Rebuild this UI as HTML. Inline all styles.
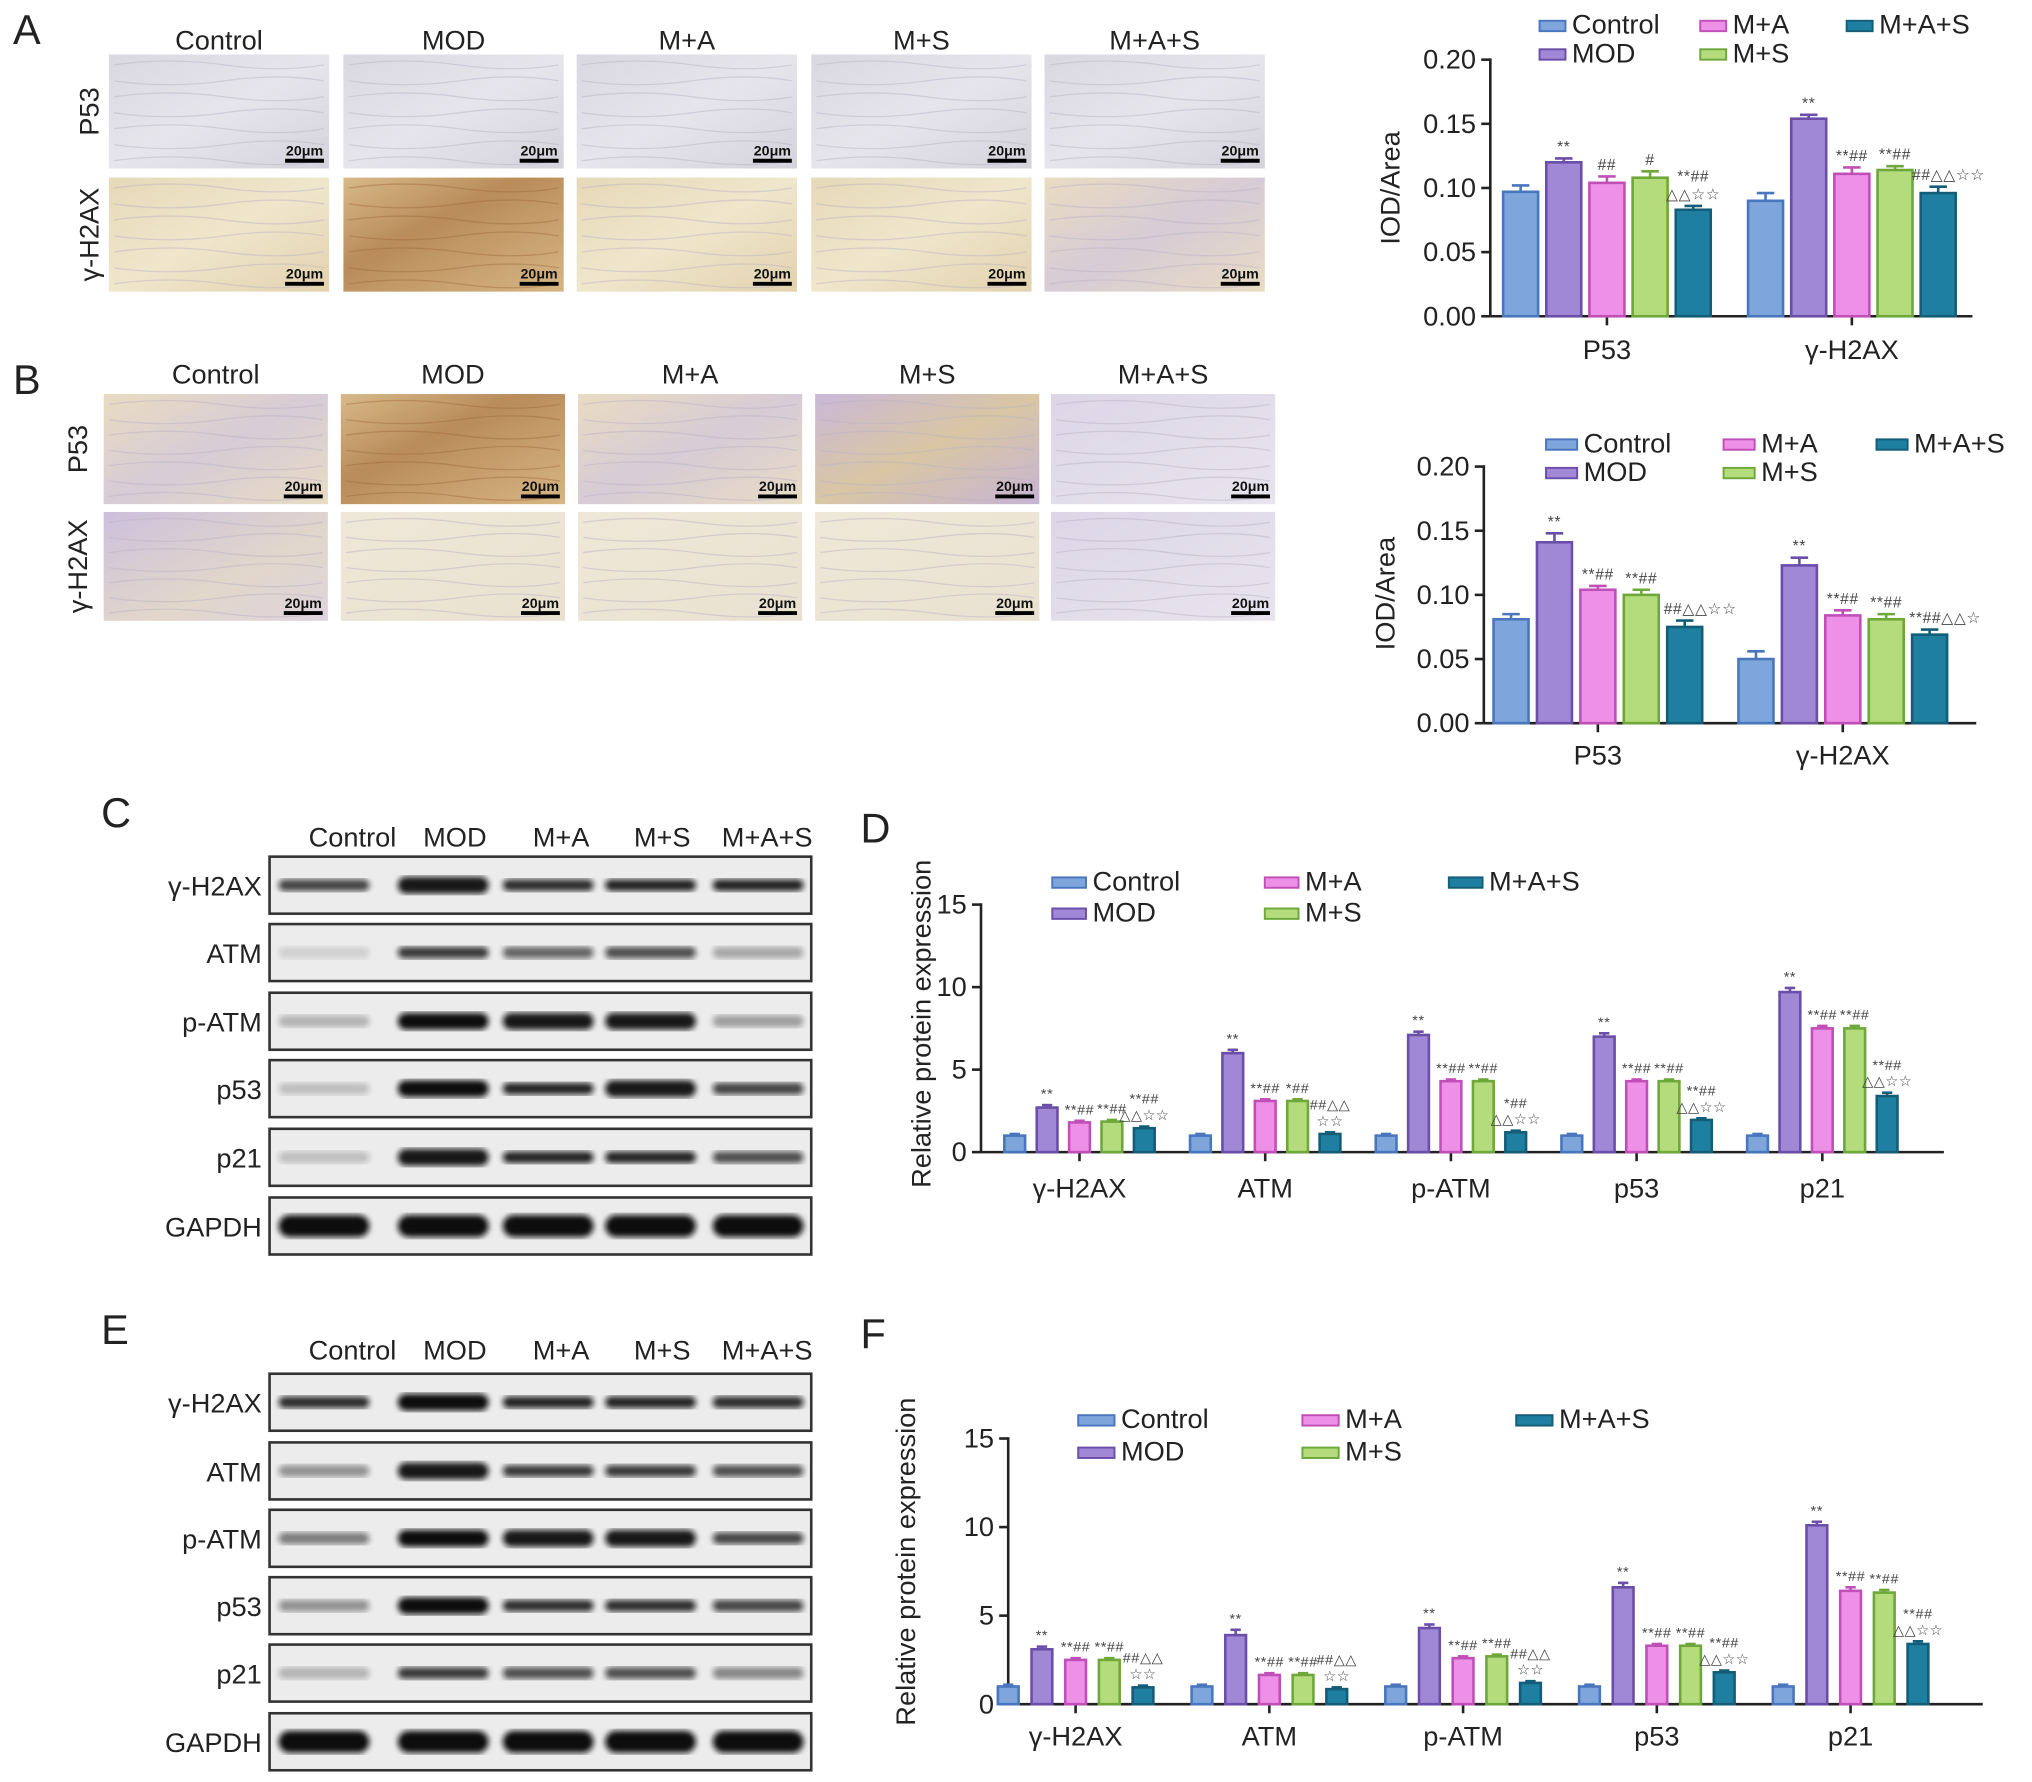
<!DOCTYPE html>
<html><head><meta charset="utf-8"><style>
html,body{margin:0;padding:0;background:#fff;}
svg{display:block;font-family:"Liberation Sans",Arial,sans-serif;}
</style></head><body>
<svg id="fig" xmlns="http://www.w3.org/2000/svg" width="2032" height="1782" viewBox="0 0 1568 1375">
<defs>
<linearGradient id="gGrey" x1="0" y1="0" x2="1" y2="1"><stop offset="0" stop-color="#d9d8e0"/><stop offset="0.5" stop-color="#e6e5ec"/><stop offset="1" stop-color="#d4d3dc"/></linearGradient>
<linearGradient id="gTan" x1="0" y1="0" x2="1" y2="1"><stop offset="0" stop-color="#e6d9b8"/><stop offset="0.5" stop-color="#efe6cc"/><stop offset="1" stop-color="#e2d2ae"/></linearGradient>
<linearGradient id="gBrown" x1="0" y1="0" x2="1" y2="1"><stop offset="0" stop-color="#d8b98a"/><stop offset="0.4" stop-color="#b98c5a"/><stop offset="1" stop-color="#d6b684"/></linearGradient>
<linearGradient id="gTanPurp" x1="0" y1="0" x2="1" y2="1"><stop offset="0" stop-color="#e9dcc2"/><stop offset="0.5" stop-color="#d7cbd6"/><stop offset="1" stop-color="#e8dcc4"/></linearGradient>
<linearGradient id="gPurp" x1="0" y1="0" x2="1" y2="1"><stop offset="0" stop-color="#c9b8d8"/><stop offset="0.5" stop-color="#d9c6a4"/><stop offset="1" stop-color="#c6b4d4"/></linearGradient>
<linearGradient id="gLav" x1="0" y1="0" x2="1" y2="1"><stop offset="0" stop-color="#dcd6e6"/><stop offset="1" stop-color="#e8e4ee"/></linearGradient>
<linearGradient id="gCream" x1="0" y1="0" x2="1" y2="1"><stop offset="0" stop-color="#efe8d8"/><stop offset="1" stop-color="#e9e1d0"/></linearGradient>
<linearGradient id="gPurpTan" x1="0" y1="0" x2="1" y2="1"><stop offset="0" stop-color="#cdbfdc"/><stop offset="0.6" stop-color="#e2d7cb"/><stop offset="1" stop-color="#ded3dc"/></linearGradient>
<filter id="blur"><feGaussianBlur stdDeviation="2.2"/></filter>
</defs>
</svg>
<script>
// ---------- DATA ----------
const groups = ["Control","MOD","M+A","M+S","M+A+S"];
const fills = ["#7ea6dc","#a088d6","#ef90e8","#b5dc7c","#1f7fa0"];
const strokes = ["#4a76bd","#6a4ea8","#c04fb8","#6ea83a","#145d78"];

const catsAB = ["P53","γ-H2AX"];
const ticksAB = [0,0.05,0.10,0.15,0.20];
const tickLabelsAB = ["0.00","0.05","0.10","0.15","0.20"];
const valsA = [[0.097,0.120,0.104,0.108,0.083],[0.090,0.154,0.111,0.114,0.096]];
const errsA = [[0.005,0.003,0.005,0.005,0.003],[0.006,0.003,0.005,0.003,0.005]];
const annA = [["","**","##","#","**##|△△☆☆"],["","**","**##","**##","##△△☆☆"]];
const valsB = [[0.081,0.141,0.104,0.100,0.075],[0.050,0.123,0.084,0.081,0.069]];
const errsB = [[0.004,0.007,0.003,0.004,0.005],[0.006,0.006,0.004,0.004,0.004]];
const annB = [["","**","**##","**##","##△△☆☆"],["","**","**##","**##","**##△△☆"]];

const catsDF = ["γ-H2AX","ATM","p-ATM","p53","p21"];
const ticksDF = [0,5,10,15];
const tickLabelsDF = ["0","5","10","15"];
const valsD = [[1.0,2.7,1.8,1.85,1.45],[1.0,6.0,3.1,3.1,1.1],[1.0,7.1,4.3,4.3,1.2],[1.0,7.0,4.3,4.3,1.95],[1.0,9.7,7.5,7.5,3.4]];
const errsD = [[0.1,0.15,0.1,0.1,0.1],[0.1,0.2,0.1,0.1,0.1],[0.1,0.2,0.1,0.1,0.1],[0.1,0.2,0.1,0.1,0.1],[0.1,0.25,0.15,0.15,0.2]];
const annD = [["","**","**##","**##","**##|△△☆☆"],["","**","**##","*##","##△△|☆☆"],["","**","**##","**##","*##|△△☆☆"],["","**","**##","**##","**##|△△☆☆"],["","**","**##","**##","**##|△△☆☆"]];
const valsF = [[1.0,3.1,2.5,2.5,0.95],[1.0,3.9,1.65,1.65,0.85],[1.0,4.3,2.6,2.7,1.2],[1.0,6.6,3.3,3.3,1.8],[1.0,10.1,6.4,6.3,3.4]];
const errsF = [[0.1,0.15,0.1,0.1,0.1],[0.1,0.3,0.1,0.1,0.1],[0.1,0.2,0.1,0.1,0.1],[0.1,0.25,0.1,0.1,0.1],[0.1,0.2,0.2,0.15,0.15]];
const annF = [["","**","**##","**##","##△△|☆☆"],["","**","**##","**##","##△△|☆☆"],["","**","**##","**##","##△△|☆☆"],["","**","**##","**##","**##|△△☆☆"],["","**","**##","**##","**##|△△☆☆"]];

const laneLabels = ["Control","MOD","M+A","M+S","M+A+S"];
const blotRows = ["γ-H2AX","ATM","p-ATM","p53","p21","GAPDH"];
const bandsC = [[0.75,0.95,0.85,0.9,0.9],[0.12,0.8,0.6,0.7,0.3],[0.25,1,0.95,0.95,0.35],[0.2,1,0.9,0.95,0.75],[0.2,0.95,0.9,0.9,0.7],[1,1,1,1,1]];
const bandsE = [[0.85,1,0.9,0.9,0.85],[0.4,0.95,0.8,0.8,0.7],[0.5,1,0.95,0.95,0.75],[0.4,1,0.85,0.85,0.75],[0.25,0.8,0.7,0.7,0.45],[1,1,1,1,1]];

// ---------- HELPERS ----------
const svg = document.getElementById('fig');
const NS = "http://www.w3.org/2000/svg";
function el(tag, attrs, parent, text){
  const e = document.createElementNS(NS, tag);
  for (const k in attrs) e.setAttribute(k, attrs[k]);
  if (text !== undefined) e.textContent = text;
  (parent || svg).appendChild(e);
  return e;
}
function txt(x,y,s,size,parent,anchor,extra){
  const a = {x:x,y:y,'font-size':size,'text-anchor':anchor||'middle',fill:'#222'};
  if (extra) for (const k in extra) a[k]=extra[k];
  return el('text',a,parent,s);
}

// ---------- PANEL LETTERS ----------
[["A",10,34],["B",10,304],["C",78,638],["D",664,650],["E",78,1037],["F",664,1040]].forEach(p=>{
  const t = txt(p[1],p[2],p[0],32,svg,'start');
  
  
});

// ---------- IHC IMAGES ----------
function ihc(id, colX, colW, labelY, rows, fillsGrid){
  const g = el('g',{});
  
  
  colX.forEach((x,i)=>{
    const t = txt(x+colW/2,labelY,laneLabels[i],21,g);
    
    
  });
  rows.forEach((r,ri)=>{
    const t = txt(0,0,r.label,21,g,'middle',{transform:`translate(${r.lx},${r.y+r.h/2}) rotate(-90)`});
    
    
    colX.forEach((x,ci)=>{
      const im = el('g',{},g);
      
      
      el('rect',{x:x,y:r.y,width:colW,height:r.h,fill:fillsGrid[ri][ci]},im);
      for(let k=0;k<7;k++){
        const yy = r.y + 8 + k*(r.h-14)/6;
        el('path',{d:`M${x+4} ${yy} q ${colW/4} ${(k%2?6:-6)} ${colW/2} 0 t ${colW/2-8} 0`,stroke:fillsGrid[ri][ci]==='url(#gBrown)'?'#a06a3c':'#b8b2c4',
          'stroke-width':1,fill:'none',opacity:0.45},im);
      }
      el('line',{x1:x+colW-34,y1:r.y+r.h-6,x2:x+colW-4,y2:r.y+r.h-6,stroke:'#000','stroke-width':3},im);
      txt(x+colW-19,r.y+r.h-10,'20μm',11,im,'middle',{'font-weight':'bold',fill:'#111'});
    });
  });
}
ihc('a',[84,265,445,626,806],170,38,
  [{label:'P53',y:42,h:88,lx:76},{label:'γ-H2AX',y:137,h:88,lx:76}],
  [['url(#gGrey)','url(#gGrey)','url(#gGrey)','url(#gGrey)','url(#gGrey)'],
   ['url(#gTan)','url(#gBrown)','url(#gTan)','url(#gTan)','url(#gTanPurp)']]);
ihc('b',[80,263,446,629,811],173,296,
  [{label:'P53',y:304,h:85,lx:67},{label:'γ-H2AX',y:395,h:84,lx:67}],
  [['url(#gTanPurp)','url(#gBrown)','url(#gTanPurp)','url(#gPurp)','url(#gLav)'],
   ['url(#gPurpTan)','url(#gCream)','url(#gCream)','url(#gCream)','url(#gLav)']]);

// ---------- BAR CHARTS ----------
function chart(c){
  const g = el('g',{});
  
  
  const yS = v => c.y0 - (v/c.ymax)*(c.y0-c.ytop);
  const lg = el('g',{},g);
  
  
  const rowOf=[0,1,0,1,0];
  const cols=[0,0,1,1,2];
  groups.forEach((s,i)=>{
    const lx = c.legX[cols[i]], ly = c.legY + rowOf[i]*c.legDy;
    const e = el('g',{},lg);
    
    
    el('rect',{x:lx,y:ly-6,width:c.sw,height:8,fill:fills[i],stroke:strokes[i],'stroke-width':1.5},e);
    txt(lx+c.sw+5,ly+4,s,c.legFs,e,'start');
  });
  const ax = el('g',{},g);
  
  
  el('line',{x1:c.x0,y1:c.ytop-1,x2:c.x0,y2:c.y0,stroke:'#222','stroke-width':2},ax);
  c.ticks.forEach((t,i)=>{
    const y=yS(t);
    el('line',{x1:c.x0-7,y1:y,x2:c.x0,y2:y,stroke:'#222','stroke-width':2},ax);
    const tl = txt(c.x0-11,y+7,c.tickLabels[i],c.tickFs,ax,'end');
    
    
  });
  const yt = txt(0,0,c.ytitle,c.titleFs,g,'middle',{transform:`translate(${c.titleX},${c.titleY}) rotate(-90)`});
  
  
  const xa = el('line',{x1:c.x0,y1:c.y0,x2:c.xend,y2:c.y0,stroke:'#222','stroke-width':2},g);
  
  
  c.cats.forEach((cat,gi)=>{
    const cx = c.g0 + gi*c.gs;
    el('line',{x1:cx,y1:c.y0,x2:cx,y2:c.y0+7,stroke:'#222','stroke-width':2},g);
    const cl = txt(cx,c.y0+c.catDy,cat,c.catFs,g);
    
    
    c.vals[gi].forEach((v,si)=>{
      const bx = cx + (si-2)*c.off;
      const b = el('g',{},g);
      
      
      el('rect',{x:bx-c.bw/2,y:yS(v),width:c.bw,height:c.y0-yS(v),fill:fills[si],stroke:strokes[si],'stroke-width':2},b);
      const e = c.errs[gi][si], ye=yS(v+e);
      el('line',{x1:bx,y1:yS(v),x2:bx,y2:ye,stroke:strokes[si],'stroke-width':2},b);
      el('line',{x1:bx-c.bw*0.25,y1:ye,x2:bx+c.bw*0.25,y2:ye,stroke:strokes[si],'stroke-width':2},b);
      const a = c.ann[gi][si];
      if(a){
        const lines = a.split('|');
        lines.forEach((ln,li)=>{
          const yy = ye - 5 - (lines.length-1-li)*c.annFs*1.15;
          txt(bx + (ln.length>4? c.annShift:0), yy, ln, c.annFs, b, 'middle',{fill:'#444','letter-spacing':'0.5'});
        });
      }
    });
  });
}
chart({id:'a',cats:catsAB,vals:valsA,errs:errsA,ann:annA,ticks:ticksAB,tickLabels:tickLabelsAB,ymax:0.20,
  x0:1150,xend:1522,y0:244,ytop:46,g0:1240,gs:189,off:33.3,bw:27,
  legX:[1188,1312,1425],legY:22,legDy:22,sw:20,legFs:21,tickFs:21,catFs:21,catDy:33,
  ytitle:'IOD/Area',titleX:1080,titleY:145,titleFs:21,annFs:12,annShift:8});
chart({id:'b',cats:catsAB,vals:valsB,errs:errsB,ann:annB,ticks:ticksAB,tickLabels:tickLabelsAB,ymax:0.20,
  x0:1145,xend:1525,y0:558,ytop:360,g0:1233,gs:189,off:33.5,bw:27,
  legX:[1193,1330,1448],legY:345,legDy:22,sw:24,legFs:21,tickFs:21,catFs:21,catDy:32,
  ytitle:'IOD/Area',titleX:1076,titleY:458,titleFs:21,annFs:12,annShift:12});
chart({id:'d',cats:catsDF,vals:valsD,errs:errsD,ann:annD,ticks:ticksDF,tickLabels:tickLabelsDF,ymax:15,
  x0:757,xend:1500,y0:889,ytop:698,g0:833,gs:143.3,off:25,bw:16,
  legX:[812,976,1118],legY:683,legDy:24,sw:26,legFs:21,tickFs:21,catFs:21,catDy:35,
  ytitle:'Relative protein expression',titleX:718,titleY:790,titleFs:21,annFs:11,annShift:6});
chart({id:'f',cats:catsDF,vals:valsF,errs:errsF,ann:annF,ticks:ticksDF,tickLabels:tickLabelsDF,ymax:15,
  x0:778,xend:1530,y0:1315,ytop:1110,g0:830,gs:149.5,off:26,bw:16,
  legX:[832,1005,1170],legY:1098,legDy:25,sw:28,legFs:21,tickFs:21,catFs:21,catDy:32,
  ytitle:'Relative protein expression',titleX:706,titleY:1205,titleFs:21,annFs:11,annShift:6});

// ---------- WESTERN BLOTS ----------
function blot(id, labelY, rowYs, bands){
  const g = el('g',{});
  
  
  const laneX=[272,351,433,511,592];
  const bandX=[250,342,423,502,585];
  laneX.forEach((x,i)=>{
    const t=txt(x,labelY,laneLabels[i],21,g);
    
    
  });
  rowYs.forEach((y,ri)=>{
    const r = el('g',{},g);
    
    
    el('rect',{x:208,y:y,width:418,height:44,fill:'#ececec',stroke:'#333','stroke-width':2},r);
    txt(202,y+30,blotRows[ri],21,r,'end');
    bands[ri].forEach((o,li)=>{
      const h = ri===5?17:(o>0.9?13:9);
      el('rect',{x:bandX[li]-35,y:y+22-h/2,width:70,height:h,rx:h/2,fill:'#111',opacity:o,filter:'url(#blur)'},r);
    });
  });
}
blot('c',653,[661,713,766,818,871,924],bandsC);
blot('e',1049,[1060,1113,1165,1217,1269,1322],bandsE);
</script>
</body></html>
